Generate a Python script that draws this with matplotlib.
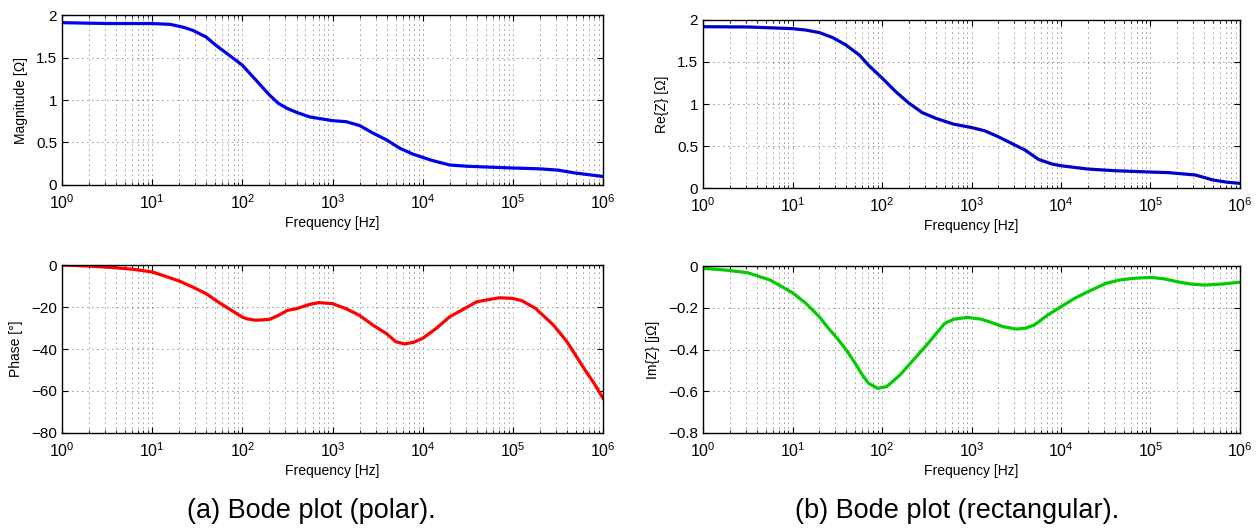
import numpy as np
import matplotlib
matplotlib.use('Agg')
import matplotlib.pyplot as plt
from matplotlib.ticker import FixedLocator, NullFormatter

plt.rcParams['font.family'] = ['Liberation Sans', 'DejaVu Sans']
plt.rcParams['mathtext.fontset'] = 'custom'
plt.rcParams['mathtext.rm'] = 'Liberation Sans'
plt.rcParams['mathtext.it'] = 'Liberation Sans:italic'
plt.rcParams['font.size'] = 10

# impedance spectrum, frequencies given as decade exponents (f = 10**exp)
mag_exp = [0, 0.5, 1.0, 1.2, 1.35, 1.45, 1.6, 1.7, 1.85, 2.0, 2.15, 2.3, 2.4,
           2.5, 2.6, 2.75, 3.0, 3.15, 3.3, 3.45, 3.6, 3.75, 3.9, 4.1, 4.3, 4.5,
           5.0, 5.3, 5.5, 5.7, 5.85, 6.0]
magnitude = [1.91, 1.90, 1.90, 1.89, 1.855, 1.82, 1.74, 1.65, 1.53, 1.41, 1.235,
             1.06, 0.96, 0.90, 0.855, 0.80, 0.757, 0.745, 0.70, 0.61, 0.53, 0.43,
             0.36, 0.29, 0.235, 0.22, 0.20, 0.19, 0.175, 0.14, 0.12, 0.10]

ph_exp = [0, 0.3, 0.6, 0.8, 1.0, 1.15, 1.3, 1.45, 1.6, 1.75, 1.85, 2.0, 2.05,
          2.15, 2.3, 2.4, 2.5, 2.6, 2.75, 2.85, 3.0, 3.15, 3.3, 3.45, 3.6, 3.7,
          3.8, 3.9, 4.0, 4.15, 4.3, 4.45, 4.6, 4.7, 4.85, 5.0, 5.1, 5.25, 5.45,
          5.6, 5.8, 5.9, 6.0]
phase = [0, -0.5, -1.3, -2.1, -3.3, -5.4, -7.6, -10.5, -13.7, -18.1, -20.8,
         -24.8, -25.6, -26.3, -25.9, -24.0, -21.6, -20.8, -18.7, -17.9, -18.4,
         -20.8, -24.0, -28.7, -32.7, -36.5, -37.6, -36.8, -34.9, -30.2, -24.6,
         -21.1, -17.5, -16.7, -15.6, -15.9, -17.0, -20.6, -28.6, -36.5, -50.0,
         -56.3, -63.5]

re_exp = [0, 0.5, 1.0, 1.15, 1.3, 1.45, 1.6, 1.75, 1.85, 2.0, 2.15, 2.3, 2.45,
          2.6, 2.8, 3.0, 3.15, 3.3, 3.45, 3.6, 3.75, 3.9, 4.0, 4.3, 4.6, 5.0,
          5.2, 5.5, 5.7, 5.85, 6.0]
re_z = [1.92, 1.917, 1.897, 1.88, 1.85, 1.79, 1.70, 1.58, 1.46, 1.31, 1.15, 1.01,
        0.897, 0.83, 0.76, 0.72, 0.68, 0.61, 0.53, 0.45, 0.34, 0.285, 0.265,
        0.226, 0.206, 0.19, 0.183, 0.155, 0.095, 0.07, 0.055]

im_exp = [0, 0.25, 0.5, 0.75, 1.0, 1.15, 1.3, 1.4, 1.5, 1.6, 1.7, 1.78, 1.85,
          1.95, 2.05, 2.1, 2.2, 2.3, 2.4, 2.5, 2.6, 2.7, 2.8, 2.95, 3.1, 3.2,
          3.35, 3.5, 3.6, 3.7, 3.85, 4.0, 4.15, 4.3, 4.5, 4.65, 4.8, 5.0, 5.15,
          5.3, 5.45, 5.6, 5.8, 6.0]
im_z = [-0.011, -0.019, -0.032, -0.067, -0.128, -0.179, -0.243, -0.298, -0.347,
        -0.402, -0.466, -0.522, -0.562, -0.586, -0.578, -0.56, -0.522, -0.474,
        -0.426, -0.378, -0.326, -0.275, -0.255, -0.246, -0.254, -0.267, -0.29,
        -0.302, -0.298, -0.283, -0.235, -0.195, -0.155, -0.123, -0.083, -0.067,
        -0.059, -0.054, -0.061, -0.075, -0.086, -0.091, -0.086, -0.077]

decades = [10.0 ** k for k in range(7)]
minor = [m * d for d in decades[:-1] for m in range(2, 10)]
dots = (0, (1, 5))


def bode_axes(ax, ylim, yticks, yticklabels, ylabel):
    ax.set_xscale('log')
    ax.set_xlim(1, 1e6)
    ax.set_ylim(*ylim)
    ax.set_yticks(yticks)
    ax.set_yticklabels(yticklabels)
    ax.xaxis.set_major_locator(FixedLocator(decades))
    ax.xaxis.set_minor_locator(FixedLocator(minor))
    ax.xaxis.set_minor_formatter(NullFormatter())
    ax.grid(True, which='major', linestyle=dots, color='0.15', linewidth=0.6)
    ax.grid(True, which='minor', axis='x', linestyle=dots, color='0.15', linewidth=0.6)
    ax.tick_params(which='both', direction='in', top=True, right=True)
    ax.tick_params(axis='x', which='major', labelsize=11.5, pad=6)
    ax.tick_params(axis='y', labelsize=11)
    ax.tick_params(which='major', length=4, width=0.8)
    ax.tick_params(which='minor', length=2, width=0.6)
    for s in ax.spines.values():
        s.set_linewidth(1.0)
    ax.set_xlabel('Frequency [Hz]', fontsize=10, labelpad=3)
    ax.set_ylabel(ylabel, fontsize=10, labelpad=6)


fig = plt.figure(figsize=(12.6, 5.29), dpi=100)

ax1 = fig.add_axes([0.0492, 0.6503, 0.4294, 0.3213])
ax2 = fig.add_axes([0.0492, 0.1815, 0.4294, 0.3175])
ax3 = fig.add_axes([0.5580, 0.6446, 0.4261, 0.3176])
ax4 = fig.add_axes([0.5580, 0.1815, 0.4261, 0.3155])

ax1.plot(10.0 ** np.array(mag_exp), magnitude, color='#0000ee', linewidth=2.3)
bode_axes(ax1, (0, 2), [0, 0.5, 1, 1.5, 2], ['0', '0.5', '1', '1.5', '2'],
          'Magnitude [Ω]')

ax2.plot(10.0 ** np.array(ph_exp), phase, color='#ff0000', linewidth=2.3)
bode_axes(ax2, (-80, 0), [-80, -60, -40, -20, 0],
          ['\u221280', '\u221260', '\u221240', '\u221220', '0'], 'Phase [°]')

ax3.plot(10.0 ** np.array(re_exp), re_z, color='#0000cc', linewidth=2.3)
bode_axes(ax3, (0, 2), [0, 0.5, 1, 1.5, 2], ['0', '0.5', '1', '1.5', '2'],
          'Re{Z} [Ω]')

ax4.plot(10.0 ** np.array(im_exp), im_z, color='#00cc00', linewidth=2.3)
bode_axes(ax4, (-0.8, 0), [-0.8, -0.6, -0.4, -0.2, 0],
          ['\u22120.8', '\u22120.6', '\u22120.4', '\u22120.2', '0'], 'Im{Z} [jΩ]')

fig.text(0.2472, 0.0340, '(a) Bode plot (polar).', ha='center', va='center', fontsize=19.5)
fig.text(0.7599, 0.0340, '(b) Bode plot (rectangular).', ha='center', va='center', fontsize=19.5)

fig.savefig('out.png', dpi=100)
